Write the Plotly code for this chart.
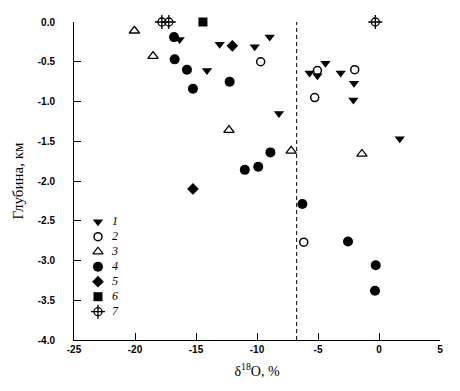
import plotly.graph_objects as go

# ---- data (delta18O, ‰ ; depth, km) ----
s1_x = [-16.34, -13.06, -10.19, -8.96, -14.1, -8.2, -5.69, -5.05, -4.39, -3.14, -2.05, -2.1, 1.7]
s1_y = [-0.22, -0.28, -0.31, -0.19, -0.61, -1.15, -0.64, -0.675, -0.52, -0.64, -0.77, -0.98, -1.47]

s2_x = [-9.7, -5.05, -1.99, -5.27, -6.17]
s2_y = [-0.50, -0.61, -0.60, -0.95, -2.77]

s3_x = [-20.05, -18.52, -12.3, -7.2, -1.4]
s3_y = [-0.11, -0.43, -1.36, -1.62, -1.66]

s4_x = [-16.8, -16.75, -15.74, -15.25, -12.24, -8.9, -9.9, -11.0, -6.28, -2.54, -0.27, -0.33]
s4_y = [-0.19, -0.47, -0.60, -0.84, -0.75, -1.64, -1.82, -1.86, -2.29, -2.76, -3.06, -3.38]

s5_x = [-12.02, -15.25]
s5_y = [-0.30, -2.10]

s6_x = [-14.43]
s6_y = [0.0]

s7_x = [-17.8, -17.23, -0.3]
s7_y = [0.0, 0.0, 0.0]

series_names = ["1", "2", "3", "4", "5", "6", "7"]
divider_x = -6.75

x_range = [-25, 5]
y_range = [-4, 0]
x_ticks = [-25, -20, -15, -10, -5, 0, 5]
y_ticks = [0, -0.5, -1, -1.5, -2, -2.5, -3, -3.5, -4]

BLACK = "#000000"

styles = [
    dict(symbol="triangle-down", size=9, color=BLACK, line=dict(width=0)),
    dict(symbol="circle-open", size=8, color=BLACK, line=dict(width=1.5, color=BLACK)),
    dict(symbol="triangle-up-open", size=9, color=BLACK, line=dict(width=1.3, color=BLACK)),
    dict(symbol="circle", size=10, color=BLACK, line=dict(width=0)),
    dict(symbol="diamond", size=9, color=BLACK, line=dict(width=0)),
    dict(symbol="square", size=9, color=BLACK, line=dict(width=0)),
]
cross_outer = dict(symbol="cross-thin-open", size=10, color=BLACK, line=dict(width=1.3, color=BLACK))
cross_inner = dict(symbol="circle-open", size=8, color=BLACK, line=dict(width=1.3, color=BLACK))

xs = [s1_x, s2_x, s3_x, s4_x, s5_x, s6_x]
ys = [s1_y, s2_y, s3_y, s4_y, s5_y, s6_y]

fig = go.Figure()
for name, x, y, st in zip(series_names[:6], xs, ys, styles):
    fig.add_trace(go.Scatter(x=x, y=y, mode="markers", name=name, marker=st,
                             cliponaxis=False, showlegend=False))
fig.add_trace(go.Scatter(x=s7_x, y=s7_y, mode="markers", name=series_names[6],
                         marker=cross_outer, cliponaxis=False, showlegend=False))
fig.add_trace(go.Scatter(x=s7_x, y=s7_y, mode="markers", name=series_names[6],
                         marker=cross_inner, cliponaxis=False, showlegend=False,
                         hoverinfo="skip"))

# ---- key (drawn on an auxiliary hidden axis pair) ----
rows = list(range(1, 8))
for i, st in enumerate(styles):
    fig.add_trace(go.Scatter(x=[8], y=[rows[i]], mode="markers", marker=st,
                             xaxis="x2", yaxis="y2", showlegend=False, cliponaxis=False,
                             hoverinfo="skip"))
fig.add_trace(go.Scatter(x=[8], y=[rows[6]], mode="markers", marker=cross_outer,
                         xaxis="x2", yaxis="y2", showlegend=False, cliponaxis=False, hoverinfo="skip"))
fig.add_trace(go.Scatter(x=[8], y=[rows[6]], mode="markers", marker=cross_inner,
                         xaxis="x2", yaxis="y2", showlegend=False, cliponaxis=False, hoverinfo="skip"))
fig.add_trace(go.Scatter(x=[25] * 7, y=rows, mode="text",
                         text=["<i>%s</i>" % n for n in series_names],
                         textposition="middle center",
                         textfont=dict(family="Liberation Serif", size=12, color=BLACK),
                         xaxis="x2", yaxis="y2", showlegend=False, cliponaxis=False,
                         hoverinfo="skip"))

fig.add_shape(type="line", xref="x", yref="y", x0=divider_x, x1=divider_x, y0=-4, y1=0.02,
              line=dict(color=BLACK, width=1, dash="4px,3px"))

tickfont = dict(family="Liberation Sans", size=10, color=BLACK, weight="bold")

fig.update_layout(
    width=452, height=383,
    margin=dict(l=66, r=20, t=14, b=51),
    paper_bgcolor="white", plot_bgcolor="white",
    showlegend=False,
    xaxis=dict(range=x_range, tickvals=x_ticks, ticktext=[str(v) for v in x_ticks],
               showgrid=False, zeroline=False, showline=True, linecolor=BLACK, linewidth=1,
               ticks="inside", ticklen=7, tickcolor=BLACK, tickwidth=1,
               tickfont=tickfont, automargin=False,
               title=dict(text="δ<sup>18</sup>O, %", standoff=12,
                          font=dict(family="Liberation Serif", size=14, color=BLACK))),
    yaxis=dict(range=y_range, tickvals=y_ticks, ticktext=["%.1f" % v for v in y_ticks],
               showgrid=False, zeroline=False, showline=True, linecolor=BLACK, linewidth=1,
               ticks="inside", ticklen=7, tickcolor=BLACK, tickwidth=1,
               tickfont=tickfont, ticklabelstandoff=16, automargin=False,
               title=dict(text="Глубина, км", standoff=10,
                          font=dict(family="Liberation Serif", size=15, color=BLACK))),
    xaxis2=dict(domain=[(90 - 74) / 366, (130 - 74) / 366], range=[0, 40], visible=False,
                anchor="y2", fixedrange=True),
    yaxis2=dict(domain=[0.0654, 0.3956], range=[7.5, 0.5], visible=False,
                anchor="x2", fixedrange=True),
)

fig.write_html("out.html")
